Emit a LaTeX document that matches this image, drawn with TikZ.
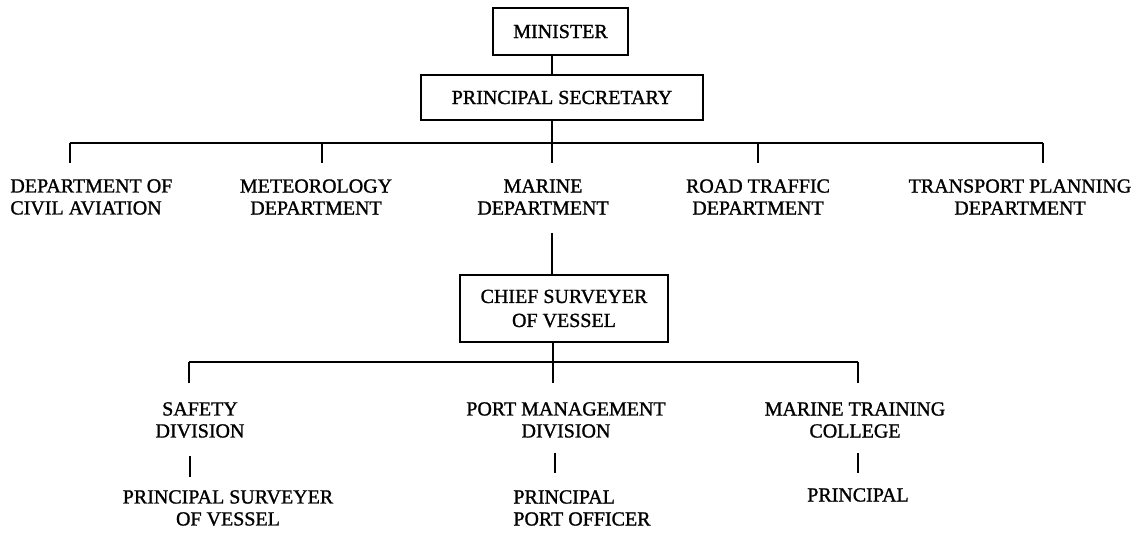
\documentclass[tikz,border=0pt]{standalone}
\usepackage{fontspec}
\setmainfont{Liberation Serif}[FakeBold=1.2]
\begin{document}
\begin{tikzpicture}[x=0.5pt,y=-0.5pt,
  every node/.style={font=\fontsize{10}{11}\selectfont, inner sep=0pt},
  box/.style={draw, line width=0.8pt},
  lbl/.style={align=center},
  vline/.style={line width=1.4pt},
  hline/.style={line width=0.6pt}]
\useasboundingbox (0,0) rectangle (1131,534);
% boxes
\node[box, minimum width=67.5pt, minimum height=23.5pt] (min) at (560.5,31.5) {MINISTER};
\node[box, minimum width=141pt, minimum height=22.5pt] (ps) at (562,97.5) {PRINCIPAL SECRETARY};
\node[box, minimum width=104pt, minimum height=33.5pt, align=center, font=\fontsize{10}{12}\selectfont] (csv) at (564,308.5) {CHIEF SURVEYER\\OF VESSEL};
% departments
\node[align=left, anchor=west] (dca) at (10,197) {DEPARTMENT OF\\CIVIL AVIATION};
\node[lbl] (met) at (316,197) {METEOROLOGY\\DEPARTMENT};
\node[lbl] (mar) at (543,197) {MARINE\\DEPARTMENT};
\node[lbl] (road) at (758,197) {ROAD TRAFFIC\\DEPARTMENT};
\node[lbl] (tp) at (1020,197) {TRANSPORT PLANNING\\DEPARTMENT};
% divisions
\node[lbl] (saf) at (200,420) {SAFETY\\DIVISION};
\node[lbl] (pmd) at (566,420) {PORT MANAGEMENT\\DIVISION};
\node[lbl] (mtc) at (855,420) {MARINE TRAINING\\COLLEGE};
% heads
\node[lbl] (psv) at (228,508) {PRINCIPAL SURVEYER\\OF VESSEL};
\node[align=left, anchor=west] (ppo) at (513,508) {PRINCIPAL\\PORT OFFICER};
\node (pr) at (858,495) {PRINCIPAL};
% coordinates
\coordinate (xm) at (552,0);
\coordinate (bL) at (70,143);
\coordinate (bMet) at (322,143);
\coordinate (bM) at (552,143);
\coordinate (bRoad) at (758,143);
\coordinate (bR) at (1043,143);
\coordinate (eL) at (70,163);
\coordinate (eMet) at (322,163);
\coordinate (eM) at (552,163);
\coordinate (eRoad) at (758,163);
\coordinate (eR) at (1043,163);
\coordinate (mS) at (552,233);
\coordinate (cL) at (189,362);
\coordinate (cM) at (553,362);
\coordinate (cR) at (858,362);
\coordinate (fL) at (189,383);
\coordinate (fM) at (553,383);
\coordinate (fR) at (858,383);
\coordinate (sA1) at (190,456);
\coordinate (sA2) at (190,477);
\coordinate (sB1) at (555,453);
\coordinate (sB2) at (555,473);
\coordinate (sC1) at (858,453);
\coordinate (sC2) at (858,473);
% connectors
\draw[vline] (min.south -| xm) -- (ps.north -| xm);
\draw[vline] (ps.south -| xm) -- (eM);
\draw[hline] (bL) -- (bR);
\draw[vline] (bL) -- (eL);
\draw[vline] (bMet) -- (eMet);
\draw[vline] (bRoad) -- (eRoad);
\draw[vline] (bR) -- (eR);
\draw[vline] (mS) -- (csv.north -| mS);
\draw[vline] (csv.south -| cM) -- (fM);
\draw[hline] (cL) -- (cR);
\draw[vline] (cL) -- (fL);
\draw[vline] (cR) -- (fR);
\draw[vline] (sA1) -- (sA2);
\draw[vline] (sB1) -- (sB2);
\draw[vline] (sC1) -- (sC2);
\end{tikzpicture}
\end{document}
